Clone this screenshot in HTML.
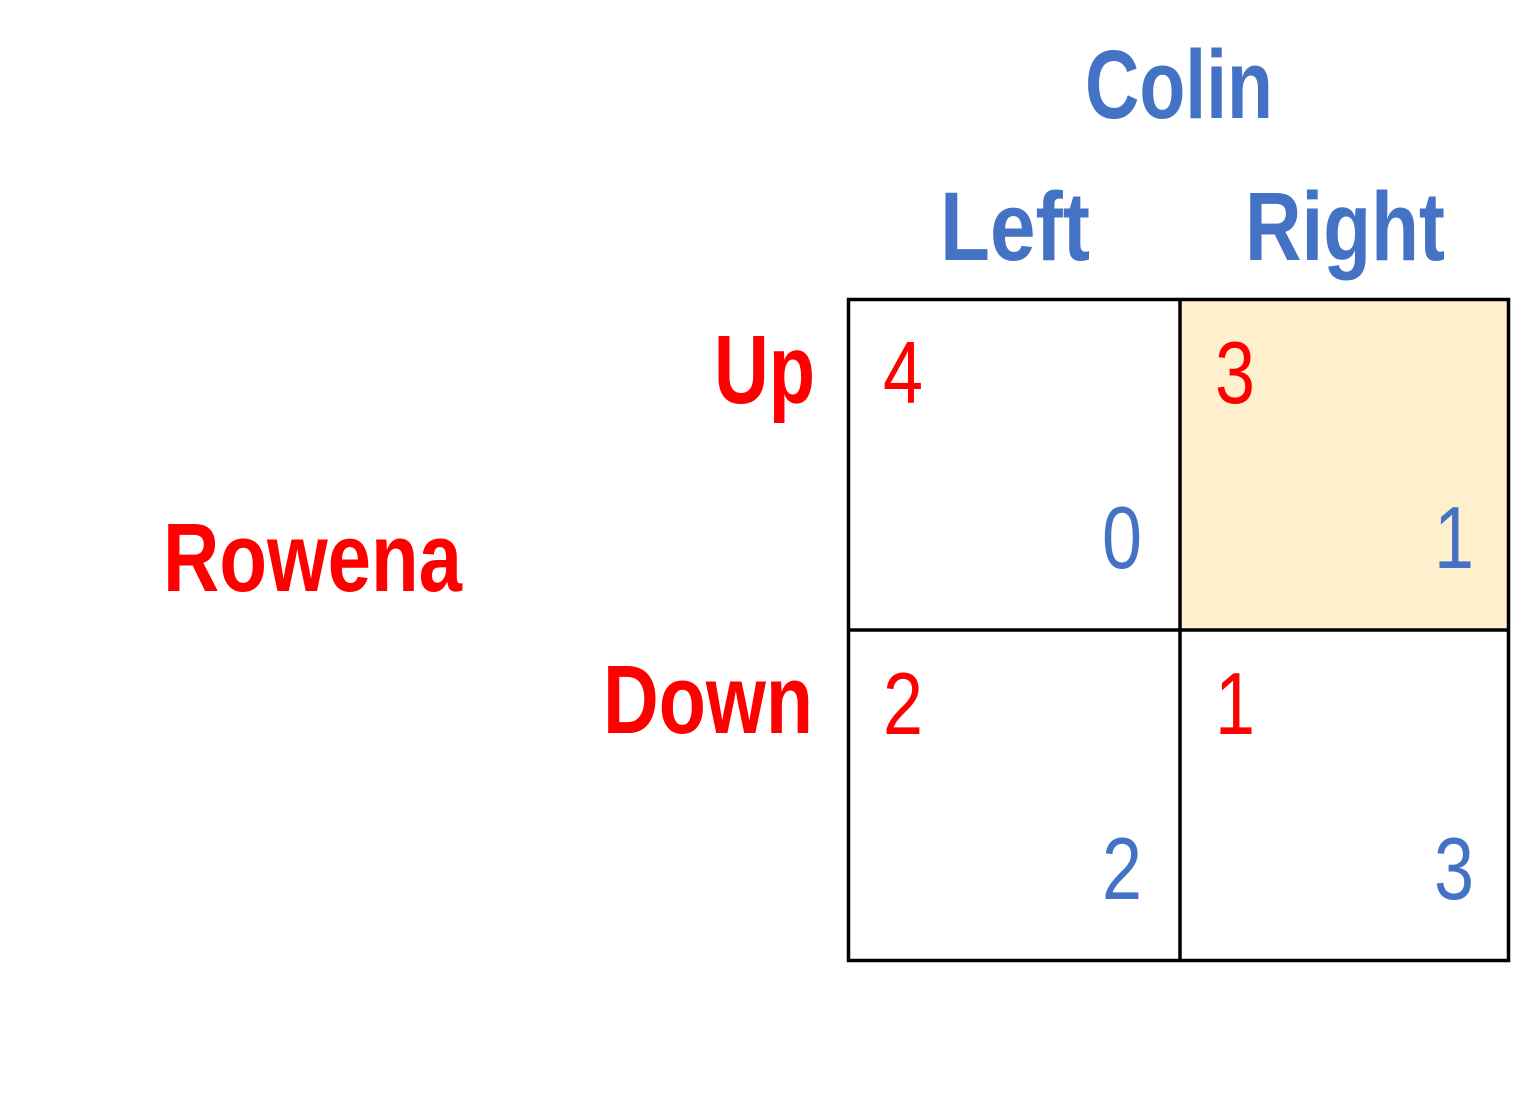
<!DOCTYPE html>
<html><head><meta charset="utf-8"><style>
html,body{margin:0;padding:0;background:#fff;}
svg{display:block;}
.lab{font-family:"Liberation Sans Narrow","Liberation Sans",sans-serif;font-weight:bold;font-size:97px;}
.num{font-family:"Liberation Sans Narrow","Liberation Sans",sans-serif;font-size:88px;}
</style></head><body>
<svg id="chart" width="1521" height="1109" viewBox="0 0 1521 1109">
<rect x="1180" y="299" width="329" height="331" fill="#fef0cd"/>
<rect x="848.5" y="299.5" width="660" height="661" fill="none" stroke="#000" stroke-width="3.5"/>
<line x1="1180" y1="299" x2="1180" y2="961" stroke="#000" stroke-width="3.5"/>
<line x1="848" y1="630" x2="1509" y2="630" stroke="#000" stroke-width="3.5"/>
<text class="lab" x="1085" y="118" fill="#4472c4" textLength="188" lengthAdjust="spacingAndGlyphs">Colin</text>
<text class="lab" x="940" y="260" fill="#4472c4" textLength="150" lengthAdjust="spacingAndGlyphs">Left</text>
<text class="lab" x="1245" y="260" fill="#4472c4" textLength="200" lengthAdjust="spacingAndGlyphs">Right</text>
<text class="lab" x="714" y="403" fill="#ff0000" textLength="101" lengthAdjust="spacingAndGlyphs">Up</text>
<text class="lab" x="603" y="733" fill="#ff0000" textLength="210" lengthAdjust="spacingAndGlyphs">Down</text>
<text class="lab" x="163" y="591" fill="#ff0000" textLength="299" lengthAdjust="spacingAndGlyphs">Rowena</text>
<g id="payoffs"></g>
</svg>
<script>
const rowPayoffs = [[4, 3], [2, 1]];
const colPayoffs = [[0, 1], [2, 3]];
const cellX = [848, 1180];
const cellY = [299, 630];
const g = document.getElementById('payoffs');
const ns = 'http://www.w3.org/2000/svg';
for (let r = 0; r < 2; r++) {
  for (let c = 0; c < 2; c++) {
    const t1 = document.createElementNS(ns, 'text');
    t1.setAttribute('class', 'num');
    t1.setAttribute('x', cellX[c] + 35);
    t1.setAttribute('y', cellY[r] + 104);
    t1.setAttribute('fill', '#ff0000');
    t1.setAttribute('textLength', '40');
    t1.setAttribute('lengthAdjust', 'spacingAndGlyphs');
    t1.textContent = rowPayoffs[r][c];
    
    
    g.appendChild(t1);
    const t2 = document.createElementNS(ns, 'text');
    t2.setAttribute('class', 'num');
    t2.setAttribute('x', cellX[c] + 254);
    t2.setAttribute('y', cellY[r] + 269);
    t2.setAttribute('fill', '#4472c4');
    t2.setAttribute('textLength', '40');
    t2.setAttribute('lengthAdjust', 'spacingAndGlyphs');
    t2.textContent = colPayoffs[r][c];
    
    
    g.appendChild(t2);
  }
}
</script>
</body></html>
